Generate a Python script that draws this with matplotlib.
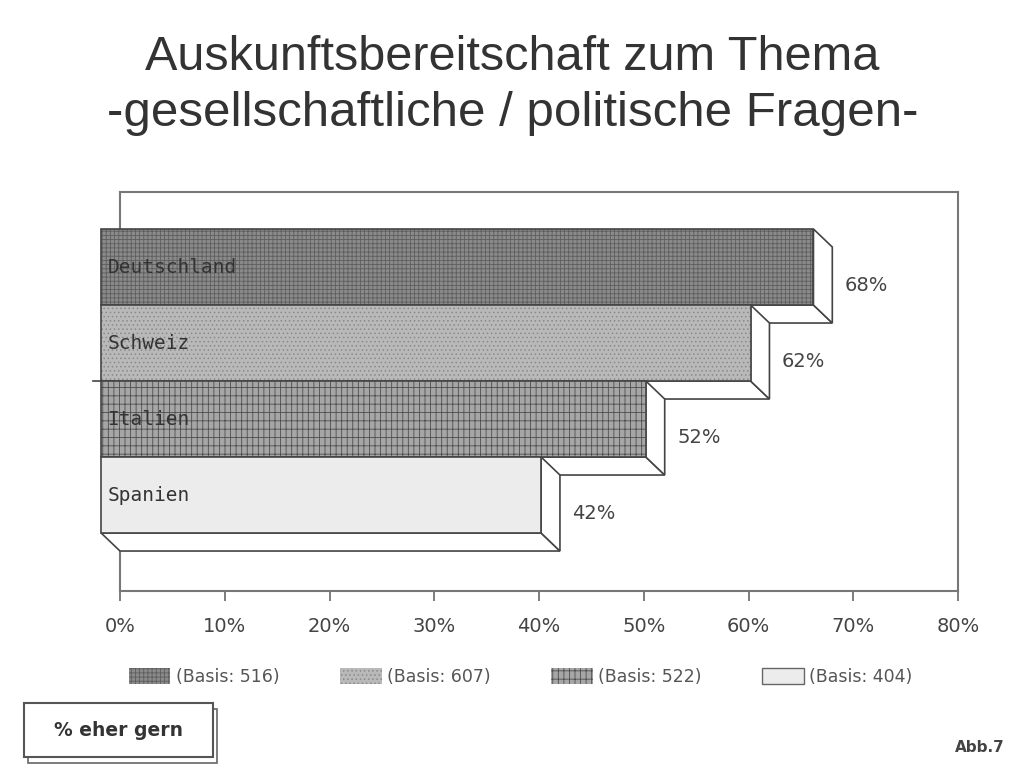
import numpy as np
import matplotlib
matplotlib.use("Agg")
import matplotlib.pyplot as plt
from matplotlib.patches import Polygon, Rectangle, Patch

# data
countries = ["Deutschland", "Schweiz", "Italien", "Spanien"]
values = [68, 62, 52, 42]
basis = ["(Basis: 516)", "(Basis: 607)", "(Basis: 522)", "(Basis: 404)"]
xticks = [0, 10, 20, 30, 40, 50, 60, 70, 80]
xticklabels = ["0%", "10%", "20%", "30%", "40%", "50%", "60%", "70%", "80%"]

# styles of the front faces
faces = ["#8a8a8a", "#b9b9b9", "#a6a6a6", "#ececec"]
hatch_cols = ["#5e5e5e", "#8a8a8a", "#4e4e4e", "#dddddd"]
hatches = ["++++", "....", "|||--", ""]

plt.rcParams['hatch.linewidth'] = 0.6
fig = plt.figure(figsize=(10.09, 7.69), dpi=100)
ax = fig.add_axes([120/1009, 1-591/769, 838/1009, 399/769])

dx = 1.8      # depth offset in x units
dy = 0.237    # depth offset in y units
edge = "#444444"

for i, (c, v) in enumerate(zip(countries, values)):
    # bottom face
    ax.add_patch(Polygon([(-dx, i+1-dy), (v-dx, i+1-dy), (v, i+1), (0, i+1)],
                         closed=True, fc="white", ec=edge, lw=1.2, zorder=3, clip_on=False))
    # right side
    ax.add_patch(Polygon([(v-dx, i-dy), (v, i), (v, i+1), (v-dx, i+1-dy)],
                         closed=True, fc="white", ec=edge, lw=1.2, zorder=3, clip_on=False))
    # front face
    ax.barh(i+0.5-dy, v, left=-dx, height=1, color=faces[i], edgecolor=hatch_cols[i],
            hatch=hatches[i], lw=0, zorder=3, clip_on=False)
    ax.barh(i+0.5-dy, v, left=-dx, height=1, fill=False, edgecolor=edge, lw=1.2,
            zorder=3, clip_on=False)
    ax.text(-dx+0.6, i+0.5-dy, c, va="center", ha="left", fontsize=14,
            family="DejaVu Sans Mono", color="#333333", zorder=4)
    ax.text(v+1.2, i+0.5, f"{v}%", va="center", ha="left", fontsize=14,
            color="#444444", zorder=4)

# small mark on the left
ax.plot([-2.6, -dx], [2-dy, 2-dy], color=edge, lw=1.2, clip_on=False, zorder=3)

ax.set_xlim(0, 80)
ax.set_ylim(4.526, -0.724)
ax.set_xticks(xticks)
ax.set_xticklabels(xticklabels, fontsize=14, color="#444444")
ax.set_yticks([])
ax.tick_params(axis="x", direction="out", length=7, width=1.2, color="#666666", pad=12)
for s in ax.spines.values():
    s.set_color("#777777")
    s.set_linewidth(1.5)

# title
fig.text(0.508, 1-58/769, "Auskunftsbereitschaft zum Thema", ha="center", va="center",
         fontsize=35, color="#333333", family="Liberation Sans")
fig.text(0.508, 1-114/769, "-gesellschaftliche / politische Fragen-", ha="center", va="center",
         fontsize=35.5, color="#333333", family="Liberation Sans")

# legend
handles = [Patch(facecolor=faces[i], edgecolor=hatch_cols[i], hatch=hatches[i], lw=0)
           for i in range(4)]
handles[3] = Patch(facecolor=faces[3], edgecolor="#666666", lw=1)
fig.legend(handles, basis, ncol=4, loc="center", bbox_to_anchor=(0.516, 1-677/769),
           frameon=False, fontsize=12.5, handlelength=2.4, handleheight=1.0,
           columnspacing=3.5, handletextpad=0.3, labelcolor="#555555")

# box "% eher gern"
fig.patches.append(Rectangle((28/1009, 1-763/769), 189/1009, 54/769, transform=fig.transFigure,
                             fc="white", ec="#666666", lw=1.2, zorder=1))
fig.patches.append(Rectangle((24/1009, 1-757/769), 189/1009, 54/769, transform=fig.transFigure,
                             fc="white", ec="#555555", lw=1.5, zorder=2))
fig.text(118/1009, 1-731/769, "% eher gern", ha="center", va="center", fontsize=13.5,
         fontweight="bold", color="#333333", zorder=3)
fig.text(1005/1009, 1-748/769, "Abb.7", ha="right", va="center", fontsize=11,
         fontweight="bold", color="#444444")

fig.savefig("out.png", dpi=100)
